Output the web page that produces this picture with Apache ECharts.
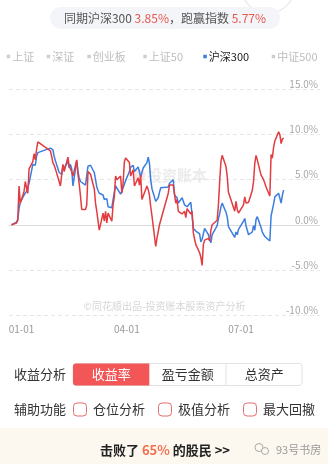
<!DOCTYPE html>
<html>
<head>
<meta charset="utf-8">
<script src="https://cdn.jsdelivr.net/npm/echarts@6/dist/echarts.min.js"></script>
<style>
  html, body { margin: 0; padding: 0; background: #ffffff; }
  #chart { width: 328px; height: 464px; }
</style>
</head>
<body>
<div id="chart"></div>
<script>
// ---------- data ----------
// Trading days: the 2022-12-30 base close, then every session up to 2023-08-04
const tradingDays = [
  ['2022-12', [30]],
  ['2023-01', [3, 4, 5, 6, 9, 10, 11, 12, 13, 16, 17, 18, 19, 20, 30, 31]],
  ['2023-02', [1, 2, 3, 6, 7, 8, 9, 10, 13, 14, 15, 16, 17, 20, 21, 22, 23, 24, 27, 28]],
  ['2023-03', [1, 2, 3, 6, 7, 8, 9, 10, 13, 14, 15, 16, 17, 20, 21, 22, 23, 24, 27, 28, 29, 30, 31]],
  ['2023-04', [3, 4, 6, 7, 10, 11, 12, 13, 14, 17, 18, 19, 20, 21, 24, 25, 26, 27, 28]],
  ['2023-05', [4, 5, 8, 9, 10, 11, 12, 15, 16, 17, 18, 19, 22, 23, 24, 25, 26, 29, 30, 31]],
  ['2023-06', [1, 2, 5, 6, 7, 8, 9, 12, 13, 14, 15, 16, 19, 20, 21, 26, 27, 28, 29, 30]],
  ['2023-07', [3, 4, 5, 6, 7, 10, 11, 12, 13, 14, 17, 18, 19, 20, 21, 24, 25, 26, 27, 28, 31]],
  ['2023-08', [1, 2, 3, 4]]
];

// Cumulative return of the account (%)
const portfolioReturn = [
  0,
  0.2, 0.5, 4.3, 2.4, 3.7, 4.8, 4.1, 3.5, 6.2, 7.0, 7.9, 7.2, 8.4, 9.2, 8.2, 7.6,
  6.9, 6.6, 6.2, 4.8, 4.3, 4.2, 6.7, 5.9, 7.5, 6.5, 6.2, 5.9, 5.4, 7.2, 5.6, 4.5, 3.2, 1.7, 1.7, 2.2,
  5.9, 6.1, 5.6, 4.0, 2.4, 1.5, 0.4, -0.6, 1.3, 0.4, 1.5, 0.2, 1.3, 0.4, 2.2, 3.1, 5.4, 5.0, 5.4, 3.5, 4.6, 7.0, 7.4,
  6.9, 5.4, 6.1, 4.3, 5.2, 4.4, 5.5, 2.8, 2.8, 4.3, 3.9, 3.3, 2.0, 1.0, -2.4, -1.5, -1.3, 0.0, 0.5,
  3.5, 4.4, 4.4, 3.4, 2.4, 2.8, 1.5, 1.2, 1.1, 1.5, 0.8, 1.8, 1.2, 1.5, -0.9, -1.6, -2.2, -3.1, -3.6, -4.5,
  -2.2, -1.7, -1.5, -1.8, -0.6, 0.0, 0.1, 0.5, 2.2, 4.8, 7.0, 7.7, 6.5, 5.4, 3.6, 1.5, 2.6, 1.7, 1.3, 1.1,
  2.2, 3.1, 2.4, 2.4, 2.5, 3.8, 4.8, 6.8, 7.7, 7.2, 5.5, 5.4, 5.0, 4.6, 4.2, 3.2, 7.8, 7.4, 8.6, 9.3, 10.3,
  10.0, 9.0, 9.5, 9.62
];

// Cumulative return of the CSI 300 over the same days (%)
const hs300Return = [
  0,
  0.3, 0.6, 1.8, 2.5, 3.3, 3.5, 3.7, 3.5, 4.6, 6.7, 6.7, 6.6, 7.6, 8.0, 8.5, 8.3,
  8.3, 7.6, 7.1, 5.8, 5.6, 5.6, 6.6, 6.3, 7.0, 6.3, 6.7, 6.2, 4.3, 7.1, 5.9, 5.2, 4.8, 4.6, 4.4, 4.6,
  6.5, 6.6, 6.6, 5.8, 5.0, 4.2, 3.8, 3.5, 3.3, 2.8, 2.6, 2.9, 2.0, 1.9, 2.8, 3.6, 4.3, 4.2, 3.4, 3.5, 4.1, 4.5, 4.9,
  5.9, 6.4, 6.6, 5.9, 6.4, 5.9, 5.3, 5.5, 6.3, 6.9, 7.5, 6.8, 5.0, 4.0, 2.6, 2.4, 3.0, 3.6, 4.1,
  4.2, 4.6, 5.0, 3.3, 3.2, 3.0, 2.4, 3.0, 2.6, 2.2, 2.2, 2.0, 2.5, 2.6, -0.4, -0.5, -0.7, -1.0, -1.9, -1.6,
  -1.4, -0.4, -1.1, -1.6, -2.0, -1.1, -0.9, -0.1, 0.7, 1.2, 2.0, 2.4, 1.4, 0.9, -0.2, -1.4, -0.8, -1.1, -0.5, -0.7,
  0.4, 0.7, -0.1, -0.6, -1.1, -0.8, -0.1, -0.6, 0.6, 0.9, -0.3, -0.8, -1.0, -1.3, -1.4, -1.8, 1.0, 0.9, 2.3, 3.1, 3.5,
  3.4, 2.4, 3.3, 3.85
];

const indexNames = ['上证', '深证', '创业板', '上证50', '沪深300', '中证500'];
const activeIndex = '沪深300';
const portfolioName = '我的收益';
const quarterStarts = ['2023-01-01', '2023-04-01', '2023-07-01'];
const axisRange = ['2022-12-28', '2023-09-02'];
const yRange = { min: -10, max: 15, step: 5 };
const analysisTabs = ['收益率', '盈亏金额', '总资产'];
const activeTab = '收益率';
const auxOptions = ['仓位分析', '极值分析', '最大回撤'];
const beatPercent = 65;

// ---------- helpers ----------
const pad2 = n => String(n).padStart(2, '0');
const DAY = 86400000;
const EPOCH = Date.UTC(2023, 0, 1);
// day number counted from 2023-01-01
const dayOf = s => {
  const [y, m, d] = s.split('-').map(Number);
  return Math.round((Date.UTC(y, m - 1, d) - EPOCH) / DAY);
};
const labelOf = day => {
  const d = new Date(EPOCH + day * DAY);
  return pad2(d.getUTCMonth() + 1) + '-' + pad2(d.getUTCDate());
};

const dates = [];
tradingDays.forEach(([ym, days]) => days.forEach(d => dates.push(ym + '-' + pad2(d))));

const portfolioSeries = dates.map((d, i) => [dayOf(d), portfolioReturn[i]]);
const hs300Series = dates.map((d, i) => [dayOf(d), hs300Return[i]]);

const lastHs300 = hs300Return[hs300Return.length - 1];
const lastPortfolio = portfolioReturn[portfolioReturn.length - 1];
const excess = lastPortfolio - lastHs300;

const FONT = '"Noto Sans CJK SC", "Noto Sans", sans-serif';
const RED = '#e23b40';
const BLUE = '#3b7ee0';
const tickDays = quarterStarts.map(dayOf);

// ---------- layout ----------
const legendLeft = [6.7, 46.7, 87.3, 143.3, 203.3, 271.7];
const tabX = [73, 149.5, 226];
const tabW = 76.3;
const auxX = [73.5, 158.5, 243.5];

const graphic = [];

// faint stamp at the top right
graphic.push({
  type: 'circle', shape: { cx: 268, cy: -14, r: 27 },
  style: { fill: 'none', stroke: '#e8e8e8', lineWidth: 1.2 }, silent: true
});

// summary pill
graphic.push({
  type: 'rect', shape: { x: 50, y: 7, width: 230, height: 22, r: 11 },
  style: { fill: '#f4f5f9' }, silent: true
});
graphic.push({
  type: 'text', silent: true,
  style: {
    x: 165, y: 18.5, align: 'center', verticalAlign: 'middle',
    text: '{g|同期沪深300 }{r|' + lastHs300.toFixed(2) + '%}{g|，跑赢指数 }{r|' + excess.toFixed(2) + '%}',
    rich: {
      g: { fill: '#555', fontSize: 12, fontFamily: FONT },
      r: { fill: '#e8584f', fontSize: 12, fontFamily: FONT }
    }
  }
});

// watermark in the plot
graphic.push({
  type: 'circle', shape: { cx: 139.5, cy: 175, r: 6 },
  style: { fill: 'rgba(240,140,140,0.22)' }, silent: true, z: 0
});
graphic.push({
  type: 'text', silent: true, z: 0,
  style: {
    x: 147, y: 175, align: 'left', verticalAlign: 'middle', text: '投资账本',
    fill: '#ebebeb', fontSize: 15, fontWeight: 'bold', fontFamily: FONT
  }
});
graphic.push({
  type: 'text', silent: true,
  style: {
    x: 164.5, y: 306.5, align: 'center', verticalAlign: 'middle',
    text: '©同花顺出品-投资账本股票资产分析', fill: '#d6d6d6', fontSize: 10, fontFamily: FONT
  }
});

// analysis tabs
graphic.push({
  type: 'text', silent: true,
  style: { x: 14, y: 374.5, verticalAlign: 'middle', text: '收益分析', fill: '#333', fontSize: 13, fontFamily: FONT }
});
graphic.push({
  type: 'rect', shape: { x: 73, y: 363.5, width: 229, height: 22, r: 3 },
  style: { fill: '#fff', stroke: '#e2e2e2', lineWidth: 1 }, silent: true
});
analysisTabs.forEach((name, i) => {
  const active = name === activeTab;
  if (active) {
    graphic.push({
      type: 'rect', shape: { x: tabX[i], y: 363.5, width: tabW, height: 22, r: i === 0 ? [3, 0, 0, 3] : 0 },
      style: { fill: '#f25656' }, silent: true
    });
  } else if (i > 0 && analysisTabs[i - 1] !== activeTab) {
    graphic.push({
      type: 'line', shape: { x1: tabX[i], y1: 363.5, x2: tabX[i], y2: 385.5 },
      style: { stroke: '#e2e2e2', lineWidth: 1 }, silent: true
    });
  }
  graphic.push({
    type: 'text', silent: true,
    style: {
      x: tabX[i] + tabW / 2, y: 374.5, align: 'center', verticalAlign: 'middle', text: name,
      fill: active ? '#ffffff' : '#333333', fontSize: 13, fontFamily: FONT
    }
  });
});

// auxiliary options
graphic.push({
  type: 'text', silent: true,
  style: { x: 14, y: 409.5, verticalAlign: 'middle', text: '辅助功能', fill: '#333', fontSize: 13, fontFamily: FONT }
});
auxOptions.forEach((name, i) => {
  graphic.push({
    type: 'rect', shape: { x: auxX[i], y: 403, width: 13, height: 13, r: 3.5 },
    style: { fill: 'none', stroke: '#e56d6d', lineWidth: 1 }, silent: true
  });
  graphic.push({
    type: 'text', silent: true,
    style: { x: auxX[i] + 19.5, y: 409.5, verticalAlign: 'middle', text: name, fill: '#333', fontSize: 13, fontFamily: FONT }
  });
});

// ranking banner
graphic.push({
  type: 'rect', shape: { x: 0, y: 428, width: 328, height: 36 },
  style: { fill: '#fcf8ef' }, silent: true
});
graphic.push({
  type: 'text', silent: true,
  style: {
    x: 165, y: 450.5, align: 'center', verticalAlign: 'middle',
    text: '{b|击败了 }{o|' + beatPercent + '%}{b| 的股民 >>}',
    rich: {
      b: { fill: '#222', fontSize: 13, fontWeight: 'bold', fontFamily: FONT },
      o: { fill: '#f2704f', fontSize: 13, fontWeight: 'bold', fontFamily: FONT }
    }
  }
});
graphic.push({
  type: 'circle', shape: { cx: 259, cy: 447.5, r: 4 },
  style: { fill: 'none', stroke: '#aaa', lineWidth: 1 }, silent: true
});
graphic.push({
  type: 'circle', shape: { cx: 265, cy: 451, r: 3.5 },
  style: { fill: '#fcf8ef', stroke: '#aaa', lineWidth: 1 }, silent: true
});
graphic.push({
  type: 'text', silent: true,
  style: { x: 276, y: 449.5, verticalAlign: 'middle', text: '93号书房', fill: '#9a9a9a', fontSize: 11, fontFamily: FONT }
});

// ---------- legends: one per index so each can sit at its own spot ----------
const legends = indexNames.map((name, i) => {
  const active = name === activeIndex;
  return {
    left: legendLeft[i], top: 51, padding: 0,
    icon: 'rect', itemWidth: 3.5, itemHeight: 3.5, selectedMode: false,
    data: [{
      name,
      itemStyle: { color: active ? BLUE : '#cfcfcf' },
      textStyle: { color: active ? '#222222' : '#bdbdbd' }
    }],
    textStyle: { fontSize: 11, fontFamily: FONT, padding: [0, 0, 0, -3] }
  };
});

const series = indexNames.filter(n => n !== activeIndex).map(name => ({
  type: 'line', name, data: [], showSymbol: false
}));
series.push({
  type: 'line', name: activeIndex, data: hs300Series, showSymbol: false, symbol: 'none',
  color: BLUE, lineStyle: { width: 1.5, color: BLUE }, z: 3
});
series.push({
  type: 'line', name: portfolioName, data: portfolioSeries, showSymbol: false, symbol: 'none',
  color: RED, lineStyle: { width: 1.5, color: RED }, z: 4
});

const chart = echarts.init(document.getElementById('chart'), null, { renderer: 'canvas' });
chart.setOption({
  animation: false,
  backgroundColor: '#ffffff',
  textStyle: { fontFamily: FONT },
  legend: legends,
  grid: { left: 9, right: 8, top: 89.5, bottom: 149, containLabel: false },
  xAxis: {
    type: 'value',
    min: dayOf(axisRange[0]),
    max: dayOf(axisRange[1]),
    axisLine: { lineStyle: { color: '#dcdcdc', width: 1 } },
    axisTick: { show: false },
    splitLine: { show: false },
    axisLabel: {
      customValues: tickDays,
      margin: 9,
      color: '#999',
      fontSize: 10,
      fontFamily: FONT,
      formatter: function (v) {
        const s = labelOf(v);
        return v === tickDays[0] ? '{first|' + s + '}' : s;
      },
      rich: {
        first: { color: '#999', fontSize: 10, fontFamily: FONT, padding: [0, 0, 0, 15] }
      }
    }
  },
  yAxis: {
    type: 'value',
    position: 'right',
    min: yRange.min,
    max: yRange.max,
    interval: yRange.step,
    axisLine: { show: false },
    axisTick: { show: false },
    axisLabel: {
      inside: true,
      margin: 2,
      verticalAlign: 'bottom',
      color: '#a8a8a8',
      fontSize: 10,
      fontFamily: FONT,
      formatter: v => v.toFixed(1) + '%'
    },
    splitLine: { lineStyle: { color: '#e6e6e6', type: [4, 3], width: 1 } }
  },
  graphic,
  series
});
</script>
</body>
</html>
